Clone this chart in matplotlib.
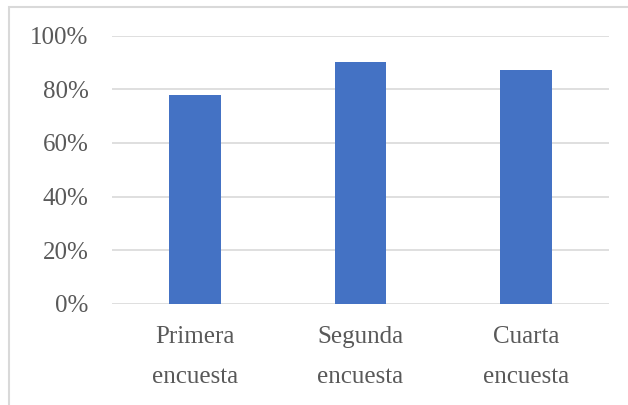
import matplotlib
matplotlib.use("Agg")
import matplotlib.pyplot as plt
from matplotlib.patches import Rectangle
from matplotlib.ticker import PercentFormatter

categories = ["Primera\nencuesta", "Segunda\nencuesta", "Cuarta\nencuesta"]
values = [0.78, 0.90, 0.87]
yticks = [0, 0.2, 0.4, 0.6, 0.8, 1.0]

plt.rcParams['font.family'] = ['Liberation Serif', 'DejaVu Serif']

fig = plt.figure(figsize=(6.28, 4.05), dpi=100)
ax = fig.add_axes([112/628, 1-304/405, (609-112)/628, (304-35.5)/405])

x = range(len(categories))
ax.bar(x, values, width=0.31, color="#4472C4", zorder=3)

ax.set_ylim(0, 1)
ax.set_xlim(-0.5, len(categories)-0.5)
ax.set_yticks(yticks)
ax.yaxis.set_major_formatter(PercentFormatter(1.0, decimals=0))
ax.grid(axis='y', color="#d9d9d9", lw=1.2, zorder=0)
for s in ax.spines.values():
    s.set_visible(False)
ax.tick_params(axis='y', length=0, pad=17, labelsize=18, labelcolor="#595959")
ax.tick_params(axis='x', length=0, pad=16, labelsize=18, labelcolor="#595959")
ax.set_xticks(list(x))
ax.set_xticklabels(categories, linespacing=2.05)

# chart area border (cut at right and bottom)
fig.patches.append(Rectangle((9/628, -0.5), 2, 1.5 - 7/405, transform=fig.transFigure,
                             fill=False, edgecolor="#d9d9d9", lw=1.5))

fig.savefig("out.png", dpi=100)
